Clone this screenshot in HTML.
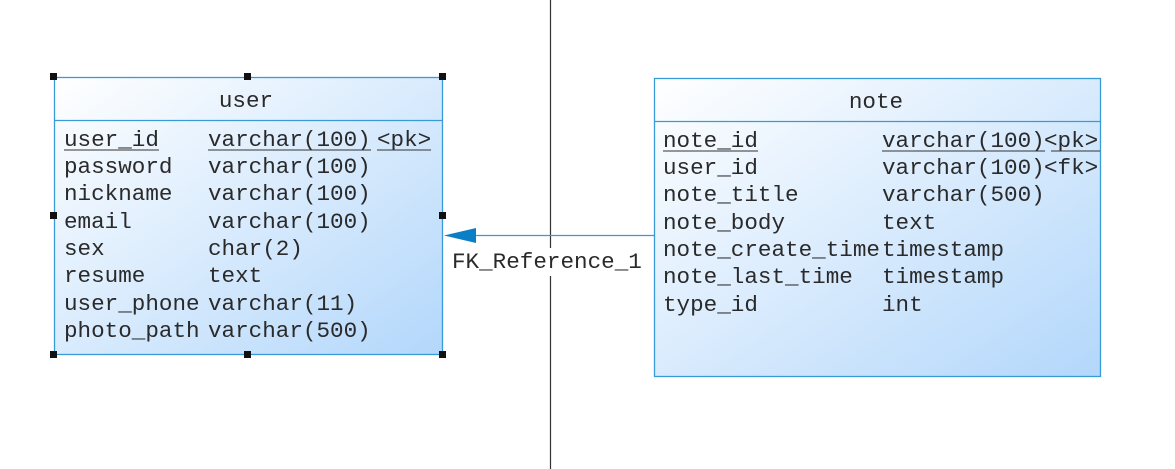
<!DOCTYPE html>
<html><head><meta charset="utf-8"><style>
html,body{margin:0;padding:0;background:#fff;width:1175px;height:469px;overflow:hidden}
svg text{font-family:"Liberation Mono",monospace;font-size:22.6px;fill:#2a2a2a}
</style></head><body>
<svg width="1175" height="469" viewBox="0 0 1175 469" xmlns="http://www.w3.org/2000/svg">
<defs>
<linearGradient id="g" x1="0" y1="0" x2="1" y2="1">
<stop offset="0" stop-color="#ffffff"/><stop offset="1" stop-color="#b3d7fb"/>
</linearGradient>
<clipPath id="cn"><rect x="655" y="78" width="445" height="298"/></clipPath>
</defs>
<line x1="550.5" y1="0" x2="550.5" y2="469" stroke="#333" stroke-width="1.2"/>
<!-- user -->
<rect x="54.5" y="77.5" width="388" height="277" fill="url(#g)" stroke="#3a9ad6" stroke-width="1.3"/>
<line x1="54" y1="120.5" x2="443" y2="120.5" stroke="#3a9ad6" stroke-width="1.3"/>
<text x="246" y="107" text-anchor="middle">user</text>
<g>
<text x="64" y="146">user_id</text><text x="208" y="146">varchar(100)</text><text x="377" y="146">&lt;pk&gt;</text>
<line x1="64" y1="150" x2="159" y2="150" stroke="#333"/><line x1="208" y1="150" x2="371" y2="150" stroke="#333"/><line x1="377" y1="150" x2="431" y2="150" stroke="#333"/>
<text x="64" y="173">password</text><text x="208" y="173">varchar(100)</text>
<text x="64" y="200">nickname</text><text x="208" y="200">varchar(100)</text>
<text x="64" y="228">email</text><text x="208" y="228">varchar(100)</text>
<text x="64" y="255">sex</text><text x="208" y="255">char(2)</text>
<text x="64" y="282">resume</text><text x="208" y="282">text</text>
<text x="64" y="310">user_phone</text><text x="208" y="310">varchar(11)</text>
<text x="64" y="337">photo_path</text><text x="208" y="337">varchar(500)</text>
</g>
<g fill="#111">
<rect x="50" y="73" width="7" height="7"/><rect x="244" y="73" width="7" height="7"/><rect x="439" y="73" width="7" height="7"/>
<rect x="50" y="212" width="7" height="7"/><rect x="439" y="212" width="7" height="7"/>
<rect x="50" y="351" width="7" height="7"/><rect x="244" y="351" width="7" height="7"/><rect x="439" y="351" width="7" height="7"/>
</g>
<!-- note -->
<rect x="654.5" y="78.5" width="446" height="298" fill="url(#g)" stroke="#3a9ad6" stroke-width="1.3"/>
<line x1="654" y1="121.5" x2="1101" y2="121.5" stroke="#3a9ad6" stroke-width="1.3"/>
<text x="876" y="108" text-anchor="middle">note</text>
<g clip-path="url(#cn)">
<text x="663" y="147">note_id</text><text x="882" y="147">varchar(100)</text><text x="1044" y="147">&lt;pk&gt;</text>
<line x1="663" y1="151" x2="758" y2="151" stroke="#333"/><line x1="882" y1="151" x2="1045" y2="151" stroke="#333"/><line x1="1051" y1="151" x2="1100" y2="151" stroke="#333"/>
<text x="663" y="174">user_id</text><text x="882" y="174">varchar(100)</text><text x="1044" y="174">&lt;fk&gt;</text>
<text x="663" y="201">note_title</text><text x="882" y="201">varchar(500)</text>
<text x="663" y="229">note_body</text><text x="882" y="229">text</text>
<text x="663" y="256">note_create_time</text><text x="882" y="256">timestamp</text>
<text x="663" y="283">note_last_time</text><text x="882" y="283">timestamp</text>
<text x="663" y="311">type_id</text><text x="882" y="311">int</text>
</g>
<!-- connector -->
<line x1="470" y1="235.5" x2="654" y2="235.5" stroke="#3a9ad6" stroke-width="1.3"/>
<polygon points="444,235.5 476,228 476,243" fill="#0a7fc6"/>
<rect x="450" y="248" width="194" height="28" fill="#fff"/>
<text x="452" y="268">FK_Reference_1</text>
</svg>
</body></html>
